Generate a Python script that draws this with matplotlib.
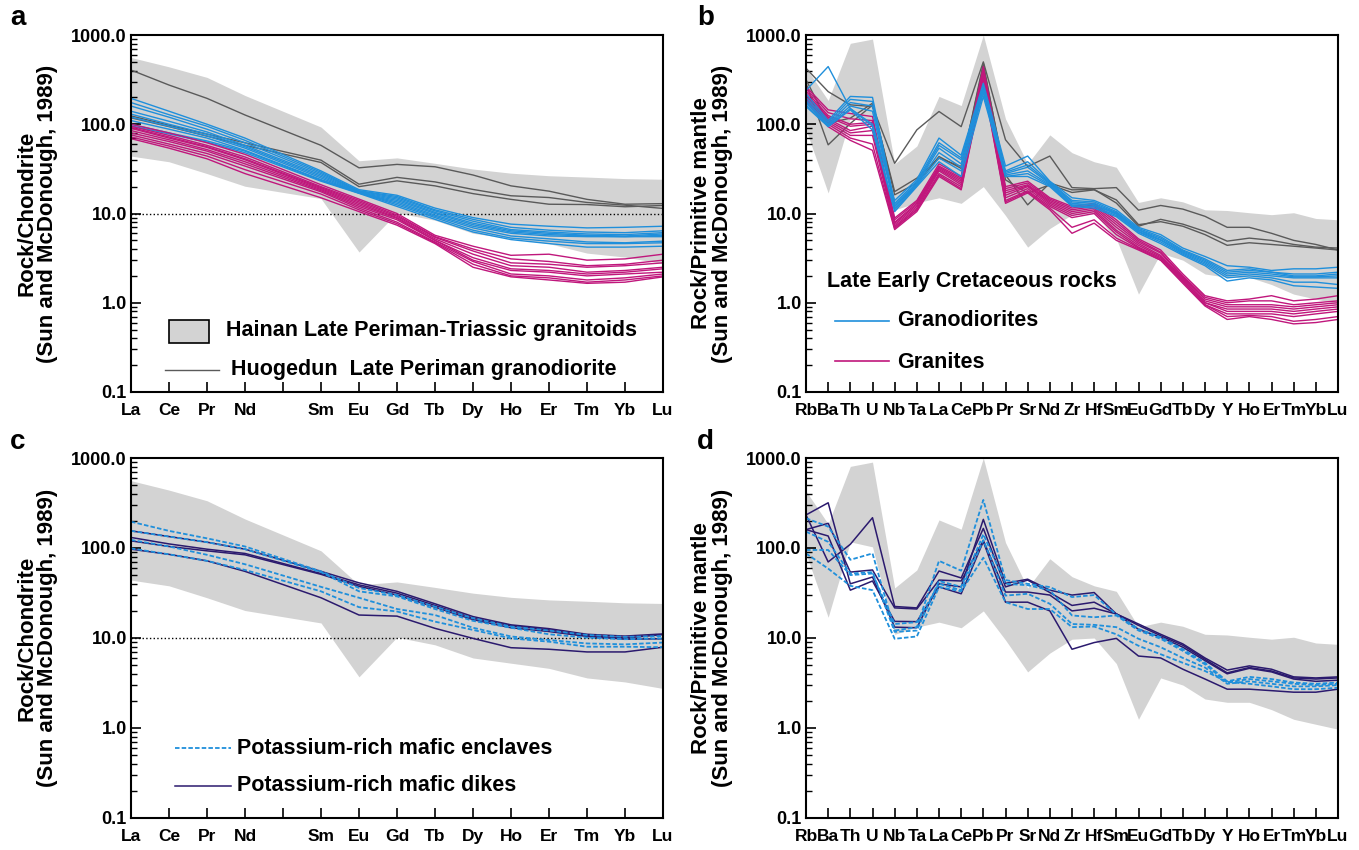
import matplotlib
matplotlib.use('Agg')
import matplotlib.pyplot as plt
import numpy as np
from matplotlib.ticker import LogLocator, NullFormatter
from matplotlib.patches import Rectangle
from matplotlib.lines import Line2D

plt.rcParams['font.family'] = ['Liberation Sans', 'DejaVu Sans']

# ---- REE (chondrite normalised), Pm has no data ----
ree_ticks = ['La', 'Ce', 'Pr', 'Nd', '', 'Sm', 'Eu', 'Gd', 'Tb', 'Dy', 'Ho', 'Er', 'Tm', 'Yb', 'Lu']
ree_x = [0, 1, 2, 3, 5, 6, 7, 8, 9, 10, 11, 12, 13, 14]

hainan_ree_upper = [560, 440, 335, 210, 93, 39, 42, 36.5, 31.5, 28.3, 26.5, 25.6, 24.6, 24.2]
hainan_ree_lower = [44, 38, 28, 20.2, 14.7, 3.7, 10.2, 8.4, 6.0, 5.25, 4.6, 3.6, 3.25, 2.75]

huogedun_ree = [
    [405, 275, 195, 127, 58, 32.5, 35.5, 33.4, 27, 20.4, 17.8, 14.4, 12.7, 12.9],
    [124, 97.6, 77.5, 62, 39.6, 21.3, 25.4, 22.6, 18.6, 15.8, 15.1, 13.3, 12.4, 11.4],
    [118, 94, 73.6, 58, 37.3, 20, 23.2, 20.4, 16.7, 14.4, 12.7, 12.6, 11.9, 12.3],
]

granodiorite_ree = [
    [195, 140, 100, 70, 30, 18.5, 16, 11.5, 9.0, 7.6, 7.2, 6.9, 7.0, 7.2],
    [175, 128, 95, 66, 29, 18, 15.5, 11, 8.6, 7.0, 6.5, 6.2, 6.1, 6.4],
    [160, 120, 88, 62, 28, 17.8, 15, 10.7, 8.2, 6.6, 6.2, 5.9, 5.8, 6.1],
    [140, 108, 82, 58, 27, 17.5, 14.5, 10.3, 7.8, 6.4, 6.0, 5.7, 5.6, 5.9],
    [130, 100, 78, 56, 26, 17.2, 14, 10, 7.5, 6.2, 5.8, 5.6, 5.5, 5.7],
    [120, 95, 74, 54, 25, 17, 13.5, 9.6, 7.2, 6.0, 5.6, 5.5, 5.5, 5.5],
    [110, 88, 70, 51, 24, 17, 13, 9.3, 6.9, 5.6, 5.2, 4.8, 4.7, 4.9],
    [100, 80, 65, 50, 23.5, 17, 12.5, 9.0, 6.5, 5.3, 4.9, 4.6, 4.6, 4.7],
    [96, 78, 63, 48, 23, 16.8, 12, 8.6, 6.2, 5.1, 4.6, 4.2, 4.2, 4.3],
]

granite_ree = [
    [100, 80, 62, 46, 21, 14.5, 10, 5.7, 4.3, 3.4, 3.5, 3.0, 3.1, 3.5],
    [95, 75, 58, 43, 20, 14, 9.6, 5.5, 4.0, 3.1, 2.9, 2.6, 2.7, 3.0],
    [92, 72, 56, 41, 19.5, 13.5, 9.3, 5.4, 3.8, 2.8, 2.7, 2.5, 2.6, 2.8],
    [90, 70, 55, 40, 19, 13, 9.0, 5.2, 3.5, 2.6, 2.5, 2.2, 2.3, 2.5],
    [85, 67, 52, 38, 18.5, 12.5, 8.8, 5.0, 3.2, 2.4, 2.3, 2.1, 2.2, 2.4],
    [80, 64, 50, 36, 18, 12, 8.5, 5.0, 3.0, 2.3, 2.2, 2.0, 2.1, 2.2],
    [76, 60, 47, 34, 17.5, 11.5, 8.0, 4.8, 2.9, 2.1, 2.0, 1.8, 1.9, 2.1],
    [72, 57, 44, 31, 16.5, 11, 7.7, 4.7, 2.7, 2.0, 1.9, 1.7, 1.8, 2.0],
    [69, 54, 41, 28, 15, 10.5, 7.4, 4.6, 2.5, 1.95, 1.8, 1.65, 1.7, 1.95],
]

enclave_ree = [
    [196, 155, 128, 104, 55, 36, 30, 22.3, 16.6, 13.4, 12.1, 10.8, 10.3, 10.5],
    [155, 134, 116, 97, 54, 33, 29, 21, 15.5, 13, 11, 10.1, 9.7, 9.9],
    [123, 104, 84, 66, 37, 28, 21, 18, 13, 10.4, 9.5, 8.7, 8.5, 8.9],
    [99, 85, 72, 57, 33, 22, 19.7, 15.2, 12.3, 9.9, 9.1, 8.0, 8.0, 7.9],
]

dike_ree = [
    [155, 134, 116, 97, 55, 41, 33, 24, 17.3, 14, 12.7, 11, 10.5, 11.1],
    [131, 111, 97, 87, 52, 39, 31.5, 23, 16.6, 13.7, 12.3, 10.6, 10, 10.9],
    [120, 104, 93, 84, 51, 37.5, 30, 22, 16, 13, 11.8, 10.4, 9.7, 9.8],
    [97, 85, 72, 55, 28, 18, 17.5, 12.8, 9.9, 7.8, 7.5, 7.0, 7.0, 7.9],
]

# ---- trace elements (primitive mantle normalised) ----
spider = ['Rb', 'Ba', 'Th', 'U', 'Nb', 'Ta', 'La', 'Ce', 'Pb', 'Pr', 'Sr', 'Nd', 'Zr',
          'Hf', 'Sm', 'Eu', 'Gd', 'Tb', 'Dy', 'Y', 'Ho', 'Er', 'Tm', 'Yb', 'Lu']
spider_x = list(range(len(spider)))

hainan_tr_upper = [430, 185, 807, 900, 36, 57, 205, 162, 1000, 115, 36, 76, 48,
                   38, 33, 13.3, 15, 13.5, 11, 10.8, 10.2, 9.7, 10.2, 8.8, 8.5]
hainan_tr_lower = [87, 17, 117, 103, 11, 13.2, 15, 13, 20, 9.5, 4.2, 6.8, 9.7,
                   10, 5.2, 1.25, 3.6, 3.0, 2.1, 1.93, 1.93, 1.6, 1.25, 1.1, 0.97]

huogedun_tr = [
    [424, 232, 165, 158, 36.5, 86.5, 139, 94, 500, 67, 33.6, 44, 19.5,
     19, 19.5, 10.9, 12.3, 11.2, 9.3, 7.0, 7.0, 6.0, 5.0, 4.5, 3.9],
    [288, 58.8, 102, 164, 17.6, 24.9, 41.7, 33.6, 443, 27, 12.5, 21.9, 18.4,
     18.6, 13.1, 7.2, 8.6, 7.6, 6.3, 4.9, 5.3, 5.0, 4.5, 4.2, 4.1],
    [316, 103, 117, 172, 16.2, 21.9, 43.5, 32, 482, 23.8, 16.9, 21, 17.2,
     18.4, 14.2, 7.5, 8.1, 7.2, 5.8, 4.4, 4.7, 4.5, 4.3, 4.1, 3.9],
]

granodiorite_tr = [
    [240, 443, 150, 100, 14, 24, 70, 45, 288, 34, 44, 23, 15,
     14, 11, 7.0, 5.8, 4.1, 3.3, 2.6, 2.5, 2.3, 2.4, 2.4, 2.5],
    [220, 110, 205, 200, 13, 23, 62, 42, 270, 30, 38, 22.5, 14,
     13.5, 10.5, 6.8, 5.5, 3.9, 3.1, 2.3, 2.4, 2.2, 2.1, 2.1, 2.2],
    [200, 105, 190, 180, 12.5, 22, 58, 40, 260, 29, 35, 22, 13.5,
     13, 10.2, 6.6, 5.3, 3.8, 3.0, 2.2, 2.3, 2.2, 2.0, 2.0, 2.1],
    [185, 100, 175, 160, 12, 21.5, 54, 36, 250, 28, 33, 21.5, 13,
     12.5, 10, 6.5, 5.1, 3.7, 2.9, 2.1, 2.2, 2.1, 1.95, 1.95, 2.0],
    [175, 98, 160, 140, 11.5, 21, 48, 33, 240, 27, 30, 21, 12.5,
     12.5, 9.8, 6.3, 5.0, 3.6, 2.8, 2.0, 2.1, 2.0, 1.9, 1.9, 1.9],
    [165, 95, 150, 95, 11, 20.5, 42, 30, 225, 26, 28, 20.5, 12.2,
     12, 9.5, 6.2, 4.8, 3.5, 2.7, 1.9, 2.0, 1.9, 1.7, 1.7, 1.6],
    [158, 94, 145, 86, 10.5, 20, 38, 26, 205, 26, 26, 20, 12,
     11.5, 9.2, 6.0, 4.6, 3.4, 2.6, 1.75, 1.9, 1.8, 1.55, 1.5, 1.45],
]

granite_tr = [
    [264, 145, 132, 122, 8.9, 14, 36, 26, 443, 20, 23, 15, 12,
     13, 8.5, 5.2, 3.9, 2.1, 1.2, 1.05, 1.1, 1.2, 1.05, 1.1, 1.2],
    [250, 135, 115, 110, 8.5, 13.5, 34, 25, 420, 19, 22, 14.5, 11.5,
     12.5, 8, 5.0, 3.7, 2.0, 1.15, 1.0, 1.05, 1.05, 0.95, 1.0, 1.05],
    [235, 125, 100, 105, 8.0, 13, 33, 24, 400, 18, 21, 14, 11,
     12, 7.5, 4.8, 3.6, 1.95, 1.1, 0.95, 0.95, 0.95, 0.9, 0.95, 1.0],
    [220, 120, 95, 100, 7.8, 12.5, 32, 23, 380, 17, 20.5, 13.5, 10.5,
     11.5, 7.0, 4.6, 3.4, 1.9, 1.05, 0.9, 0.9, 0.9, 0.85, 0.9, 0.95],
    [210, 115, 85, 95, 7.5, 12, 31, 22, 360, 16, 20, 13, 10,
     11, 6.5, 4.4, 3.3, 1.85, 1.0, 0.85, 0.85, 0.85, 0.8, 0.85, 0.9],
    [200, 110, 80, 85, 7.2, 11.5, 30, 21, 340, 15, 19, 12.5, 9.5,
     10.5, 6.2, 4.2, 3.2, 1.8, 1.0, 0.8, 0.8, 0.8, 0.75, 0.8, 0.85],
    [190, 105, 75, 75, 7.0, 11, 28, 20, 320, 14, 18, 12, 9,
     10, 5.8, 4.1, 3.1, 1.75, 0.95, 0.75, 0.75, 0.75, 0.7, 0.75, 0.8],
    [185, 100, 70, 60, 6.8, 11, 27, 19, 300, 13.5, 17.5, 11.5, 7,
     8.5, 5.3, 4.0, 3.0, 1.7, 0.95, 0.7, 0.72, 0.7, 0.62, 0.65, 0.7],
    [178, 94, 66, 51, 6.6, 10.5, 26, 18.4, 288, 13, 17, 11, 6,
     7.8, 5.0, 3.9, 3.0, 1.65, 0.92, 0.65, 0.7, 0.65, 0.58, 0.6, 0.65],
]

enclave_tr = [
    [214, 173, 74, 87, 12.1, 13.2, 72, 56, 342, 44, 40, 36.8, 28.5,
     30, 18.2, 12.6, 10.2, 7.5, 5.3, 3.3, 3.7, 3.5, 3.2, 3.1, 3.2],
    [152, 117, 52, 54, 11.7, 12.1, 43, 37, 142, 40, 38.6, 34, 17.8,
     17, 17.8, 12.1, 9.8, 7.2, 5.1, 3.2, 3.5, 3.3, 3.1, 3.0, 3.1],
    [95, 95, 50, 52, 14.3, 15, 40, 34, 122, 29.6, 31, 24, 14.3,
     14, 13.2, 9.8, 7.9, 6.0, 4.7, 3.1, 3.3, 3.1, 2.9, 2.9, 3.0],
    [87, 59, 38, 34, 9.8, 10.4, 36.8, 33, 78, 25, 21, 21, 13.2,
     13.4, 11, 8.2, 6.6, 5.3, 4.3, 3.25, 3.1, 2.9, 2.7, 2.7, 2.8],
]

dike_tr = [
    [233, 318, 40, 47.6, 13.2, 13, 40, 37, 208, 40.5, 45, 34, 30,
     32, 18.5, 14.3, 11, 8.6, 6.0, 4.4, 4.9, 4.5, 3.7, 3.6, 3.7],
    [233, 70, 110, 217, 22.4, 21.6, 55.5, 46.5, 165, 37, 44, 32, 23,
     25, 18.5, 13.8, 10.6, 8.3, 5.8, 4.1, 4.7, 4.3, 3.6, 3.5, 3.6],
    [160, 188, 54, 57, 21.6, 21, 44, 43, 121, 32.4, 32.4, 30, 20,
     21.4, 18.5, 12.5, 10.2, 7.9, 5.6, 4.0, 4.6, 4.2, 3.5, 3.3, 3.4],
    [160, 136, 34, 43, 15.3, 15.2, 37, 31, 118, 25, 25, 20, 7.5,
     8.9, 9.9, 6.3, 6.0, 4.5, 3.5, 2.7, 2.7, 2.6, 2.5, 2.5, 2.7],
]

GREY_FILL = '#d3d3d3'
GREY_LINE = '#5a5a5a'
BLUE = '#1f8fdb'
MAGENTA = '#c0177c'
NAVY = '#2b1a6e'
LEG_FS = 15.5

W, H = 1359, 850
fig = plt.figure(figsize=(W / 100, H / 100), dpi=100)


def make_ax(x0, x1, y0, y1):
    return fig.add_axes([x0 / W, 1 - y1 / H, (x1 - x0) / W, (y1 - y0) / H])


def style(ax, ticks, ylabel):
    ax.set_yscale('log')
    ax.set_ylim(0.1, 1000)
    ax.set_xlim(0, len(ticks) - 1)
    ax.set_xticks(range(len(ticks)))
    ax.set_xticklabels(ticks, fontweight='bold', fontsize=12.5)
    ax.set_yticks([0.1, 1, 10, 100, 1000])
    ax.set_yticklabels(['0.1', '1.0', '10.0', '100.0', '1000.0'], fontweight='bold', fontsize=13)
    ax.yaxis.set_minor_locator(LogLocator(base=10, subs=np.arange(2, 10)))
    ax.yaxis.set_minor_formatter(NullFormatter())
    ax.tick_params(which='both', direction='in', top=False, right=False)
    ax.tick_params(axis='y', which='major', length=7, width=1.2, pad=3)
    ax.tick_params(axis='y', which='minor', length=4, width=1.0)
    ax.tick_params(axis='x', length=7, width=1.2, pad=8)
    for s in ax.spines.values():
        s.set_linewidth(1.5)
    ax.set_ylabel(ylabel, fontweight='bold', fontsize=16, linespacing=1.0)
    ax.yaxis.set_label_coords(-0.137, 0.5)


ax_a = make_ax(131, 663, 35, 392)
ax_b = make_ax(806, 1338, 35, 392)
ax_c = make_ax(131, 663, 458, 818)
ax_d = make_ax(806, 1338, 458, 818)

chond = 'Rock/Chondrite\n(Sun and McDonough, 1989)'
prim = 'Rock/Primitive mantle\n(Sun and McDonough, 1989)'

# panel a
ax_a.fill_between(ree_x, hainan_ree_lower, hainan_ree_upper, color=GREY_FILL, lw=0)
ax_a.axhline(10, color='k', ls=':', lw=1)
for v in huogedun_ree:
    ax_a.plot(ree_x, v, color=GREY_LINE, lw=1)
for v in granodiorite_ree:
    ax_a.plot(ree_x, v, color=BLUE, lw=1)
for v in granite_ree:
    ax_a.plot(ree_x, v, color=MAGENTA, lw=1)
style(ax_a, ree_ticks, chond)
ax_a.add_patch(Rectangle((0.0714, 0.137), 0.075, 0.065, transform=ax_a.transAxes,
                         facecolor=GREY_FILL, edgecolor='k', lw=1.2))
ax_a.text(0.179, 0.172, 'Hainan Late Periman-Triassic granitoids', transform=ax_a.transAxes,
          fontsize=LEG_FS, fontweight='bold', va='center')
ax_a.add_line(Line2D([0.064, 0.165], [0.062, 0.062], transform=ax_a.transAxes, color=GREY_LINE, lw=1))
ax_a.text(0.188, 0.062, 'Huogedun  Late Periman granodiorite', transform=ax_a.transAxes,
          fontsize=LEG_FS, fontweight='bold', va='center')

# panel b
ax_b.fill_between(spider_x, hainan_tr_lower, hainan_tr_upper, color=GREY_FILL, lw=0)
for v in huogedun_tr:
    ax_b.plot(spider_x, v, color=GREY_LINE, lw=1)
for v in granite_tr:
    ax_b.plot(spider_x, v, color=MAGENTA, lw=1)
for v in granodiorite_tr:
    ax_b.plot(spider_x, v, color=BLUE, lw=1)
style(ax_b, spider, prim)
ax_b.text(0.04, 0.31, 'Late Early Cretaceous rocks', transform=ax_b.transAxes,
          fontsize=LEG_FS, fontweight='bold', va='center')
ax_b.add_line(Line2D([0.054, 0.156], [0.199, 0.199], transform=ax_b.transAxes, color=BLUE, lw=1.2))
ax_b.text(0.172, 0.199, 'Granodiorites', transform=ax_b.transAxes,
          fontsize=LEG_FS, fontweight='bold', va='center')
ax_b.add_line(Line2D([0.054, 0.156], [0.087, 0.087], transform=ax_b.transAxes, color=MAGENTA, lw=1.2))
ax_b.text(0.172, 0.083, 'Granites', transform=ax_b.transAxes,
          fontsize=LEG_FS, fontweight='bold', va='center')

# panel c
ax_c.fill_between(ree_x, hainan_ree_lower, hainan_ree_upper, color=GREY_FILL, lw=0)
ax_c.axhline(10, color='k', ls=':', lw=1)
for v in dike_ree:
    ax_c.plot(ree_x, v, color=NAVY, lw=1.1)
for v in enclave_ree:
    ax_c.plot(ree_x, v, color=BLUE, lw=1.3, ls=(0, (2.5, 1.2)))
style(ax_c, ree_ticks, chond)
ax_c.add_line(Line2D([0.083, 0.188], [0.194, 0.194], transform=ax_c.transAxes,
                     color=BLUE, lw=1.3, ls=(0, (2.5, 1.2))))
ax_c.text(0.1985, 0.194, 'Potassium-rich mafic enclaves', transform=ax_c.transAxes,
          fontsize=LEG_FS, fontweight='bold', va='center')
ax_c.add_line(Line2D([0.083, 0.188], [0.089, 0.089], transform=ax_c.transAxes, color=NAVY, lw=1.1))
ax_c.text(0.1985, 0.089, 'Potassium-rich mafic dikes', transform=ax_c.transAxes,
          fontsize=LEG_FS, fontweight='bold', va='center')

# panel d
ax_d.fill_between(spider_x, hainan_tr_lower, hainan_tr_upper, color=GREY_FILL, lw=0)
for v in dike_tr:
    ax_d.plot(spider_x, v, color=NAVY, lw=1.1)
for v in enclave_tr:
    ax_d.plot(spider_x, v, color=BLUE, lw=1.3, ls=(0, (2.5, 1.2)))
style(ax_d, spider, prim)

for lab, x, y in [('a', 10, 18), ('b', 697, 18), ('c', 10, 442), ('d', 697, 442)]:
    fig.text(x / W, 1 - y / H, lab, fontsize=20, fontweight='bold', va='center', ha='left')

fig.savefig('out.png', dpi=100)
